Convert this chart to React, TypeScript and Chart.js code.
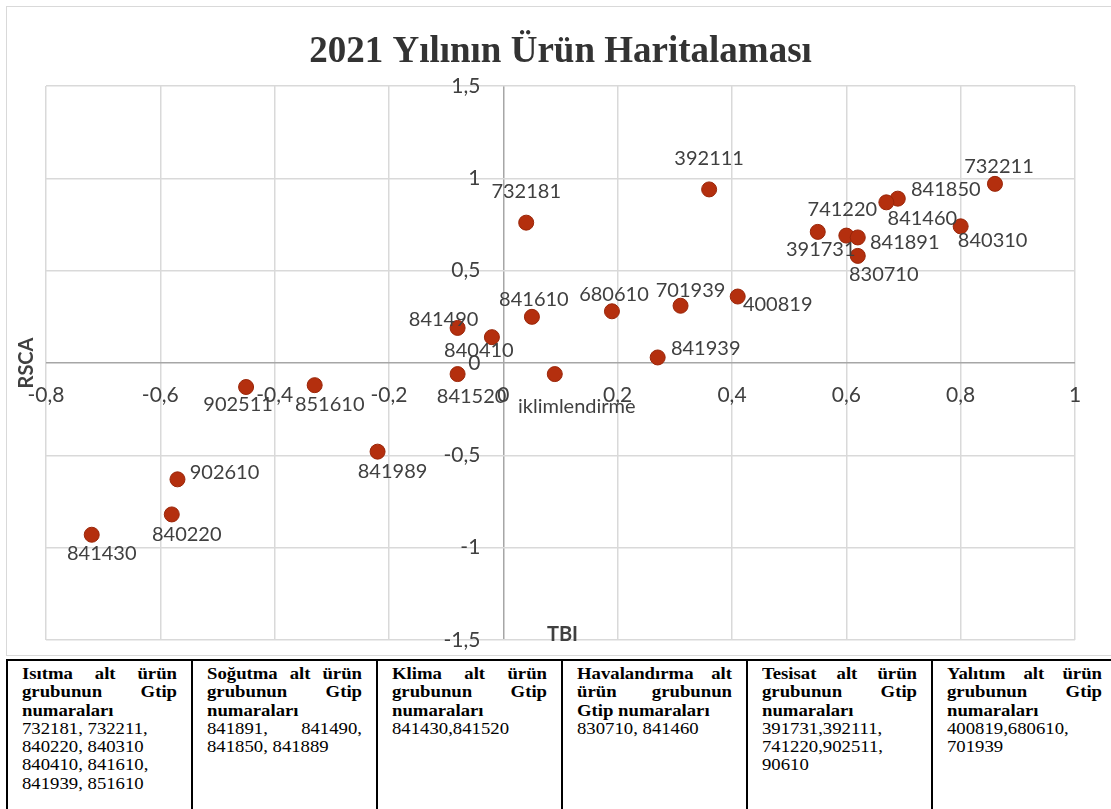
import React, { useEffect, useRef } from "react";
import { Chart, registerables } from "chart.js";

Chart.register(...registerables);

// ---------- data ----------
const chartTitle = "2021 Yılının Ürün Haritalaması";
const xAxisTitle = "TBI";
const yAxisTitle = "RSCA";

const productCodes = [
  "732181", "392111", "732211", "841850", "841460", "741220", "391731", "841891",
  "830710", "840310", "841610", "680610", "701939", "400819", "841939", "841490",
  "840410", "841520", "iklimlendirme", "902511", "851610", "841989", "902610",
  "840220", "841430",
];
const tbiValues = [
  0.04, 0.36, 0.86, 0.69, 0.67, 0.6, 0.55, 0.62,
  0.62, 0.8, 0.05, 0.19, 0.31, 0.41, 0.27, -0.08,
  -0.02, -0.08, 0.09, -0.45, -0.33, -0.22, -0.57,
  -0.58, -0.72,
];
const rscaValues = [
  0.76, 0.94, 0.97, 0.89, 0.87, 0.69, 0.71, 0.68,
  0.58, 0.74, 0.25, 0.28, 0.31, 0.36, 0.03, 0.19,
  0.14, -0.06, -0.06, -0.13, -0.12, -0.48, -0.63,
  -0.82, -0.93,
];

const xTickLabels = ["-0,8", "-0,6", "-0,4", "-0,2", "0", "0,2", "0,4", "0,6", "0,8", "1"];
const yTickLabels = ["-1,5", "-1", "-0,5", "0", "0,5", "1", "1,5"];

const tableHeaders = [
  "Isıtma alt ürün grubunun Gtip numaraları",
  "Soğutma alt ürün grubunun Gtip numaraları",
  "Klima alt ürün grubunun Gtip numaraları",
  "Havalandırma alt ürün grubunun Gtip numaraları",
  "Tesisat alt ürün grubunun Gtip numaraları",
  "Yalıtım alt ürün grubunun Gtip numaraları",
];
const tableCodes = [
  "732181, 732211,\n840220, 840310\n840410, 841610,\n841939, 851610",
  "841891, 841490, 841850, 841889",
  "841430,841520",
  "830710, 841460",
  "391731,392111, 741220,902511, 90610",
  "400819,680610, 701939",
];

// label placement offsets (px) relative to each marker
const labelOffsets: [number, number][] = [
  [0, -31], [0, -31], [4, -17], [48, -9], [36, 16], [-4, -26], [3, 18], [47, 5],
  [26, 19], [32, 14], [2, -17], [2, -17], [10, -15], [40, 8], [48, -9], [-14, -8],
  [-13, 13], [14, 22], [22, 32], [-8, 18], [15, 19], [15, 20], [47, -7],
  [15, 20], [10, 19],
];

// ---------- styles ----------
const CANVAS_W = 1125;
const CANVAS_H = 657;
const AREA = { left: 46, top: 86, right: 1075, bottom: 640 };
const LABEL_FONT = '20px Lato, "Open Sans", sans-serif';
const TICK_FONT = '21px Lato, "Open Sans", sans-serif';
const BOLD_FONT = 'bold 20px Lato, "Open Sans", sans-serif';
const toNum = (s: string) => parseFloat(s.replace(",", "."));

const overlayPlugin = {
  id: "overlay",
  beforeDraw(chart: any) {
    const ctx = chart.ctx as CanvasRenderingContext2D;
    ctx.save();
    ctx.fillStyle = "#ffffff";
    ctx.fillRect(0, 0, chart.width, chart.height);
    ctx.strokeStyle = "#d9d9d9";
    ctx.lineWidth = 1;
    ctx.strokeRect(6.5, 6.5, chart.width + 10, 649);
    ctx.restore();
  },
  beforeDatasetsDraw(chart: any) {
    const ctx = chart.ctx as CanvasRenderingContext2D;
    const xs = chart.scales.x;
    const ys = chart.scales.y;
    const area = chart.chartArea;
    ctx.save();
    // tick labels
    ctx.font = TICK_FONT;
    ctx.fillStyle = "#404040";
    ctx.textAlign = "center";
    ctx.textBaseline = "middle";
    const zeroY = ys.getPixelForValue(0);
    xTickLabels.forEach((t) => {
      ctx.fillText(t, xs.getPixelForValue(toNum(t)), zeroY + 32);
    });
    ctx.textAlign = "right";
    const zeroX = xs.getPixelForValue(0);
    yTickLabels.forEach((t) => {
      ctx.fillText(t, zeroX - 23, ys.getPixelForValue(toNum(t)));
    });
    // title
    ctx.fillStyle = "#333333";
    ctx.font = 'bold 37px "Liberation Serif", "Times New Roman", serif';
    ctx.textAlign = "center";
    ctx.textBaseline = "alphabetic";
    ctx.fillText(chartTitle, (area.left + area.right) / 2, 62);
    // axis titles
    ctx.font = BOLD_FONT;
    ctx.fillStyle = "#404040";
    ctx.textBaseline = "middle";
    ctx.fillText(xAxisTitle, (area.left + area.right) / 2 + 2, area.bottom - 5);
    ctx.translate(27, (area.top + area.bottom) / 2);
    ctx.rotate(-Math.PI / 2);
    ctx.fillText(yAxisTitle, 0, 0);
    ctx.restore();
  },
  afterDatasetsDraw(chart: any) {
    const ctx = chart.ctx as CanvasRenderingContext2D;
    const meta = chart.getDatasetMeta(0);
    ctx.save();
    ctx.font = LABEL_FONT;
    ctx.fillStyle = "#404040";
    ctx.textAlign = "center";
    ctx.textBaseline = "middle";
    meta.data.forEach((pt: any, i: number) => {
      const [dx, dy] = labelOffsets[i];
      ctx.fillText(productCodes[i], pt.x + dx, pt.y + dy);
    });
    ctx.restore();
  },
};

function ScatterChart() {
  const ref = useRef<HTMLCanvasElement | null>(null);
  useEffect(() => {
    if (!ref.current) return;
    const gridColor = (c: any) =>
      Math.abs(c.tick?.value ?? 1) < 1e-9 ? "#a6a6a6" : "#d9d9d9";
    const chart = new Chart(ref.current, {
      type: "scatter",
      data: {
        datasets: [
          {
            data: tbiValues.map((x, i) => ({ x, y: rscaValues[i] })),
            backgroundColor: "#b42f0e",
            borderColor: "#9a2609",
            borderWidth: 1,
            pointRadius: 7.5,
            pointHoverRadius: 7.5,
          },
        ],
      },
      options: {
        responsive: false,
        animation: false,
        events: [],
        layout: {
          padding: {
            left: AREA.left,
            top: AREA.top,
            right: CANVAS_W - AREA.right,
            bottom: CANVAS_H - AREA.bottom,
          },
        },
        plugins: {
          legend: { display: false },
          title: { display: false },
          tooltip: { enabled: false },
        },
        scales: {
          x: {
            type: "linear",
            min: toNum(xTickLabels[0]),
            max: toNum(xTickLabels[xTickLabels.length - 1]),
            ticks: { stepSize: 0.2, display: false },
            grid: { color: gridColor, lineWidth: 1.5, drawTicks: false },
            border: { display: false },
          },
          y: {
            type: "linear",
            min: toNum(yTickLabels[0]),
            max: toNum(yTickLabels[yTickLabels.length - 1]),
            ticks: { stepSize: 0.5, display: false },
            grid: { color: gridColor, lineWidth: 1.5, drawTicks: false },
            border: { display: false },
          },
        },
      },
      plugins: [overlayPlugin],
    });
    return () => chart.destroy();
  }, []);
  return (
    <canvas
      ref={ref}
      width={CANVAS_W}
      height={CANVAS_H}
      style={{ position: "absolute", left: 0, top: 0, width: CANVAS_W, height: CANVAS_H }}
    />
  );
}

const STRETCH = 1.17;
const CELL_INNER = 155;

function CodesTable() {
  const cellStyle: React.CSSProperties = {
    border: "2px solid #000",
    padding: "4px 14px 0 14px",
    verticalAlign: "top",
    width: CELL_INNER,
    height: 200,
    overflow: "hidden",
  };
  const innerStyle: React.CSSProperties = {
    width: CELL_INNER / STRETCH,
    transform: `scaleX(${STRETCH})`,
    transformOrigin: "left top",
    textAlign: "justify",
  };
  return (
    <table
      style={{
        position: "absolute",
        left: 6,
        top: 659,
        borderCollapse: "collapse",
        tableLayout: "fixed",
        width: 185 * 6,
        fontFamily: '"Liberation Serif", "Times New Roman", serif',
        fontSize: 16,
        lineHeight: "18.3px",
        color: "#000",
      }}
    >
      <tbody>
        <tr>
          {tableHeaders.map((h, i) => (
            <td key={i} style={cellStyle}>
              <div style={innerStyle}>
                <div style={{ fontWeight: "bold" }}>{h}</div>
                <div>
                  {tableCodes[i].split("\n").map((line, j, arr) => (
                    <React.Fragment key={j}>
                      {line}
                      {j < arr.length - 1 ? <br /> : null}
                    </React.Fragment>
                  ))}
                </div>
              </div>
            </td>
          ))}
        </tr>
      </tbody>
    </table>
  );
}

export default function App() {
  return (
    <div
      style={{
        position: "fixed",
        left: 0,
        top: 0,
        width: "100vw",
        height: "100vh",
        overflow: "hidden",
        background: "#fff",
      }}
    >
      <ScatterChart />
      <CodesTable />
    </div>
  );
}
